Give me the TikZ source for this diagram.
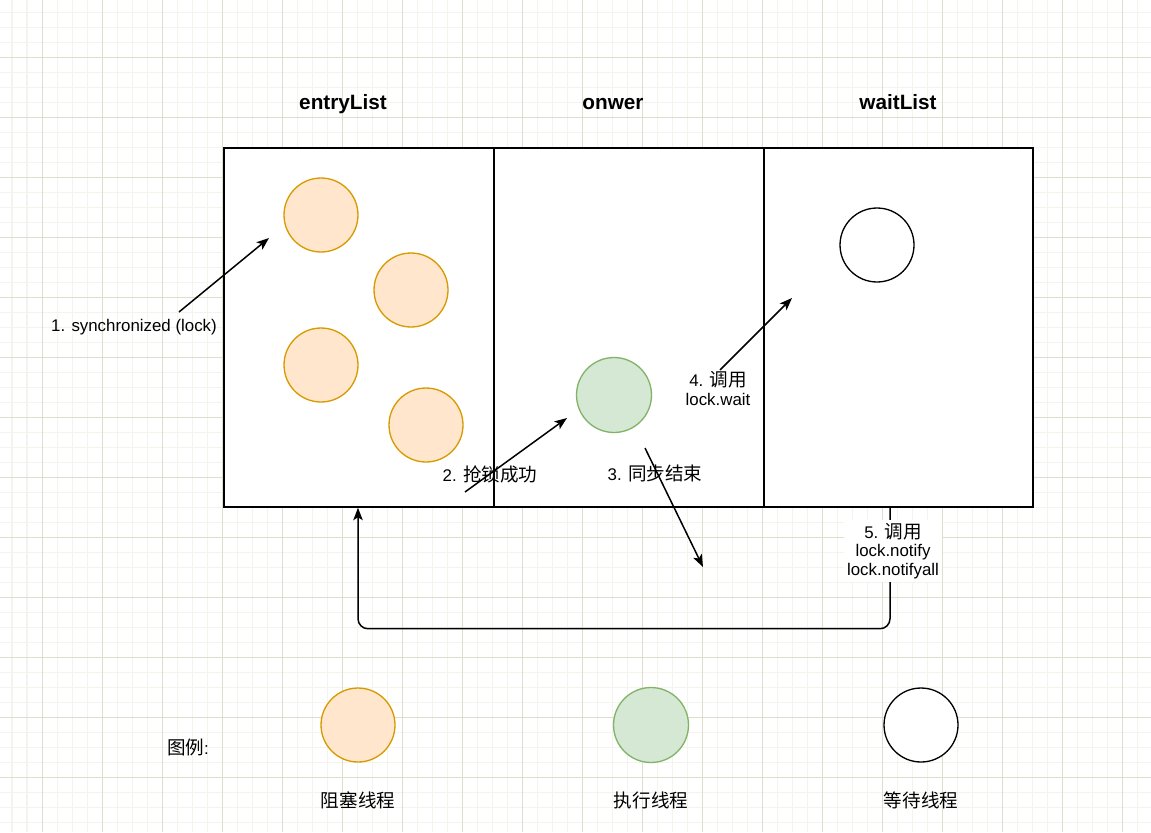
\documentclass[tikz,border=0pt]{standalone}
\usepackage{fontspec}
\setmainfont{Liberation Sans}
\newfontfamily\cjk[Scale=1.1]{Noto Sans CJK SC}
\usetikzlibrary{arrows.meta,positioning}
\definecolor{gridminor}{RGB}{244,244,238}
\definecolor{gridmajor}{RGB}{222,222,204}
\definecolor{blockfill}{RGB}{255,230,204}
\definecolor{blockline}{RGB}{215,155,0}
\definecolor{runfill}{RGB}{213,232,212}
\definecolor{runline}{RGB}{130,179,102}

\begin{document}
\begin{tikzpicture}[x=0.02cm, y=-0.02cm, >={Stealth[length=0.25cm,width=0.19cm,inset=0.06cm]},
    every node/.style={font=\fontsize{9.6}{10.4}\selectfont},
    head/.style={font=\fontsize{11.8}{14}\selectfont\bfseries, anchor=base},
    lane/.style={draw, line width=0.85pt, minimum width=5.4cm, minimum height=7.18cm, inner sep=0pt},
    blocked/.style={circle, draw=blockline, fill=blockfill, line width=0.75pt, minimum size=1.48cm, inner sep=0pt},
    running/.style={circle, draw=runline, fill=runfill, line width=0.75pt, minimum size=1.5cm, inner sep=0pt},
    waiting/.style={circle, draw=black, fill=white, line width=0.75pt, minimum size=1.48cm, inner sep=0pt},
    flow/.style={->, line width=0.85pt}]
    \useasboundingbox (0,0) rectangle (1151,832);
    \fill[white] (0,0) rectangle (1151,832);
    \foreach \gx in {12,27,...,1151} \draw[gridminor, line width=0.57pt] (\gx,0) -- (\gx,832);
    \foreach \gy in {12,27,...,832} \draw[gridminor, line width=0.57pt] (0,\gy) -- (1151,\gy);
    \foreach \gx in {42,102,...,1151} \draw[gridmajor, line width=0.57pt] (\gx,0) -- (\gx,832);
    \foreach \gy in {57,117,...,832} \draw[gridmajor, line width=0.57pt] (0,\gy) -- (1151,\gy);

    \fill[white] (224,148) rectangle (1033,507);
    \node[lane] (entry) at (359,327.5) {};
    \node[lane] (owner) at (629,327.5) {};
    \node[lane, minimum width=5.38cm] (wait) at (898.5,327.5) {};

    \node at (343,109) [head] (entryhead) {entryList};
    \node at (613,109) [head] (ownerhead) {onwer};
    \node at (898,109) [head] (waithead) {waitList};

    \node at (321,215) [blocked] (b1) {};
    \node at (411,290) [blocked] (b2) {};
    \node at (321,365) [blocked] (b3) {};
    \node at (426,425) [blocked] (b4) {};
    \node at (614,395) [running] (r1) {};
    \node at (877,245) [waiting] (w1) {};

    \coordinate (s1) at (179,312);
    \coordinate (t1) at (269,238);
    \draw[flow] (s1) -- (t1);
    \node at (134,327) (lab1) {1. synchronized (lock)};

    \coordinate (s2) at (465,492);
    \coordinate (t2) at (567,418);
    \draw[flow] (s2) -- (t2);
    \node at (490,474) (lab2) {2. {\cjk 抢锁成功}};

    \coordinate (s3) at (645,448);
    \coordinate (t3) at (703,567);
    \draw[flow] (s3) -- (t3);
    \node at (655,473) (lab3) {3. {\cjk 同步结束}};

    \coordinate (s4) at (720,370);
    \coordinate (t4) at (792,298);
    \draw[flow] (s4) -- (t4);
    \node at (718,388) [align=center, font=\fontsize{9.6}{10.8}\selectfont] (lab4) {4. {\cjk 调用}\\lock.wait};

    \coordinate (s5) at (wait.south -| 890,0);
    \coordinate (t5) at (entry.south -| 358,0);
    \draw[flow, rounded corners=0.2cm] (s5) -- ++(0,121) -| (t5);
    \node at (893,551) [align=center, fill=white, inner sep=2pt] (lab5) {5. {\cjk 调用}\\lock.notify\\lock.notifyall};

    \node at (188,747) (legend) {{\cjk 图例}:};
    \node at (358,725) [blocked] (lb) {};
    \node at (651,725) [running] (lr) {};
    \node at (921,725) [waiting] (lw) {};
    \node at (358,800) (lbt) {\cjk 阻塞线程};
    \node at (651,800) (lrt) {\cjk 执行线程};
    \node at (921,800) (lwt) {\cjk 等待线程};
\end{tikzpicture}
\end{document}
